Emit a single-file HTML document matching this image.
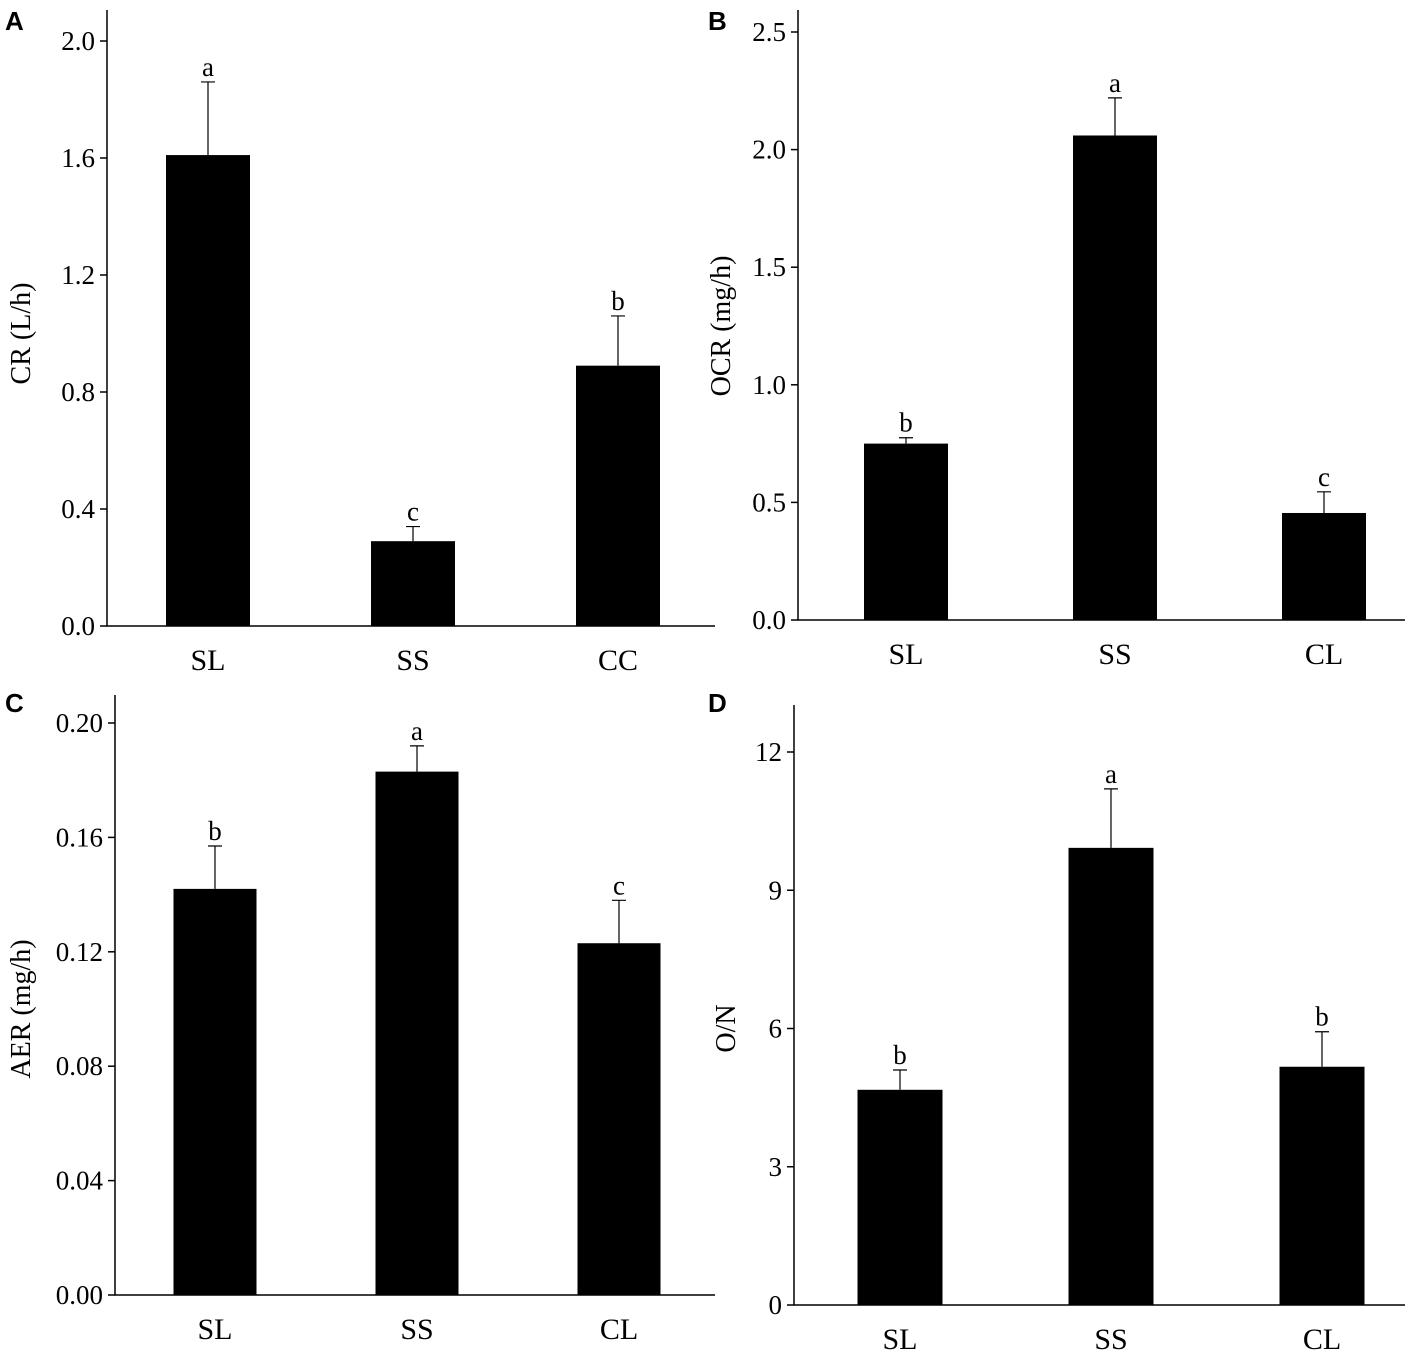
<!DOCTYPE html>
<html><head><meta charset="utf-8"><style>
body{margin:0;background:#fff}
svg{display:block}
text{font-family:"Liberation Serif",serif;fill:#000}
</style></head><body>
<svg id="c" width="1417" height="1354"></svg>
<script>
const catsA=["SL","SS","CC"], valsA=[1.61,0.29,0.89], errA=[1.86,0.34,1.06], letA=["a","c","b"], ticksA=["0.0","0.4","0.8","1.2","1.6","2.0"];
const catsB=["SL","SS","CL"], valsB=[0.75,2.06,0.455], errB=[0.775,2.22,0.545], letB=["b","a","c"], ticksB=["0.0","0.5","1.0","1.5","2.0","2.5"];
const catsC=["SL","SS","CL"], valsC=[0.142,0.183,0.123], errC=[0.157,0.192,0.138], letC=["b","a","c"], ticksC=["0.00","0.04","0.08","0.12","0.16","0.20"];
const catsD=["SL","SS","CL"], valsD=[4.67,9.92,5.17], errD=[5.1,11.2,5.93], letD=["b","a","b"], ticksD=["0","3","6","9","12"];
const svg=document.getElementById('c');
const NS="http://www.w3.org/2000/svg";
function mk(tag,attrs,parent){const e=document.createElementNS(NS,tag);for(const k in attrs)e.setAttribute(k,attrs[k]);parent.appendChild(e);return e;}
function panel(cfg){
  const g=mk('g',{},svg);
  
  
  const ymax=parseFloat(cfg.ticks[cfg.ticks.length-1]);
  const y=v=>cfg.y0-(v/ymax)*(cfg.y0-cfg.yTop);
  const ax=mk('path',{d:`M${cfg.x0} ${cfg.axTop}V${cfg.y0}H${cfg.x1}`,stroke:'#000','stroke-width':1.5,fill:'none'},g);
  
  
  cfg.ticks.forEach(t=>{
    const v=parseFloat(t),yy=y(v);
    mk('line',{x1:cfg.x0-7,x2:cfg.x0,y1:yy,y2:yy,stroke:'#000','stroke-width':1.5},g);
    const tx=mk('text',{x:cfg.x0-12,y:yy+9,'text-anchor':'end','font-size':27},g);
    tx.textContent=t;
    
    
  });
  const n=cfg.cats.length, bw=cfg.bw;
  cfg.cats.forEach((c,i)=>{
    const cx=cfg.c0+i*cfg.step;
    const b=mk('rect',{x:cx-bw/2,y:y(cfg.vals[i]),width:bw,height:cfg.y0-y(cfg.vals[i]),fill:'#000'},g);
    
    
    const ey=y(cfg.err[i]);
    const e=mk('path',{d:`M${cx} ${y(cfg.vals[i])}V${ey}M${cx-7} ${ey}H${cx+7}`,stroke:'#000','stroke-width':1.2,fill:'none'},g);
    
    
    const l=mk('text',{x:cx,y:ey-6,'text-anchor':'middle','font-size':27},g);
    l.textContent=cfg.lets[i];
    
    
    const xl=mk('text',{x:cx,y:cfg.y0+44,'text-anchor':'middle','font-size':30},g);
    xl.textContent=c;
    
    
  });
  const yt=mk('text',{x:0,y:0,'text-anchor':'middle','font-size':28,transform:`translate(${cfg.titleX},${(cfg.y0+cfg.yTop)/2}) rotate(-90)`},g);
  yt.textContent=cfg.title;
  
  
  const pl=mk('text',{x:cfg.px,y:cfg.py,'font-size':26,'font-weight':'bold',style:'font-family:"Liberation Sans",sans-serif'},g);
  pl.textContent=cfg.id;
  
  
}
panel({id:'A',cats:catsA,vals:valsA,err:errA,lets:letA,ticks:ticksA,x0:107,x1:715,y0:626,yTop:41,axTop:10,c0:208,step:205,bw:84,title:'CR (L/h)',titleX:30,px:5,py:30});
panel({id:'B',cats:catsB,vals:valsB,err:errB,lets:letB,ticks:ticksB,x0:798,x1:1405,y0:620,yTop:32,axTop:10,c0:906,step:209,bw:84,title:'OCR (mg/h)',titleX:730,px:708,py:30});
panel({id:'C',cats:catsC,vals:valsC,err:errC,lets:letC,ticks:ticksC,x0:115,x1:715,y0:1295,yTop:723,axTop:695,c0:215,step:202,bw:83,title:'AER (mg/h)',titleX:30,px:5,py:712});
panel({id:'D',cats:catsD,vals:valsD,err:errD,lets:letD,ticks:ticksD,x0:794,x1:1405,y0:1305,yTop:752,axTop:705,c0:900,step:211,bw:85,title:'O/N',titleX:735,px:708,py:712});
</script>
</body></html>
